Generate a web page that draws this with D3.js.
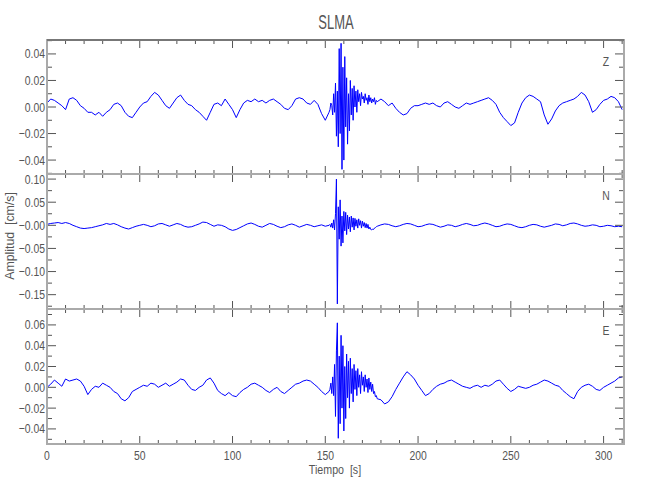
<!DOCTYPE html>
<html><head><meta charset="utf-8">
<script src="https://cdn.jsdelivr.net/npm/d3@7"></script>
<style>
body{margin:0;background:#fff;}
text{font-family:"Liberation Sans",Arial,sans-serif;fill:#555;white-space:pre;}
</style></head><body>
<script>
// ---------- data ----------
const titleText = "SLMA";
const xLabel = "Tiempo  [s]";
const yLabel = "Amplitud  [cm/s]";
const components = ["Z", "N", "E"];
const xDomain = [0, 311];
const xMajorTicks = [0, 50, 100, 150, 200, 250, 300];

// sample times (s) of the three record segments
const timePre = d3.range(0, 153, 2);
const timeBurst = d3.range(152.5, 178.01, 0.5);
const timePost = d3.range(180, 311, 2);

// Z component amplitudes (cm/s)
const ampZPre = [0.003,0.006,0.005,0.003,0.001,-0.002,0.006,0.007,0.005,0.001,-0.001,-0.004,-0.004,-0.006,-0.004,-0.007,-0.004,-0.002,0.002,0.003,0.001,-0.004,-0.007,-0.008,-0.004,0.000,0.003,0.004,0.008,0.011,0.009,0.005,0.001,-0.001,0.003,0.007,0.009,0.005,0.002,0.001,-0.002,-0.004,-0.007,-0.010,-0.004,0.002,0.003,0.001,0.006,0.002,-0.002,-0.008,-0.002,0.003,0.005,0.004,0.006,0.004,0.005,0.003,0.005,0.006,0.004,0.002,-0.001,-0.002,0.001,0.006,0.007,0.006,0.003,0.002,0.005,0.002,-0.005,-0.010,-0.004];
const ampZBurst = [-0.002,0.003,0.001,-0.006,0.010,-0.004,0.018,-0.022,0.012,-0.030,0.044,-0.020,0.048,-0.047,0.030,-0.040,0.038,-0.015,0.022,-0.028,0.010,-0.018,0.020,-0.006,0.014,-0.010,0.016,0.000,0.012,-0.004,0.013,0.004,0.010,0.001,0.011,0.006,0.008,0.003,0.010,0.005,0.007,0.002,0.009,0.004,0.007,0.003,0.006,0.004,0.007,0.002,0.005,0.004];
const ampZPost = [0.006,0.004,0.001,0.003,-0.001,-0.004,-0.006,-0.005,-0.001,0.001,0.001,0.002,0.003,0.002,0.003,0.001,0.000,0.003,0.004,0.002,0.000,-0.001,0.001,0.003,0.002,0.003,0.004,0.005,0.006,0.007,0.005,0.002,-0.004,-0.008,-0.011,-0.014,-0.012,-0.004,0.003,0.007,0.009,0.008,0.006,0.004,-0.006,-0.013,-0.009,-0.003,0.001,0.003,0.004,0.005,0.006,0.008,0.011,0.009,0.004,-0.004,-0.002,0.002,0.005,0.006,0.008,0.007,0.004,-0.002];

// N component amplitudes (cm/s)
const ampNPre = [0.002,0.004,0.005,0.006,0.004,0.006,0.004,0.000,-0.003,-0.006,-0.007,-0.006,-0.005,-0.003,-0.001,0.001,0.004,0.002,0.004,0.001,-0.003,-0.006,-0.008,-0.005,-0.002,0.000,0.002,0.000,-0.003,-0.001,0.003,0.004,0.001,-0.002,0.001,0.004,0.002,-0.002,-0.004,-0.003,0.000,0.003,0.007,0.006,0.002,-0.002,0.001,0.000,-0.003,-0.008,-0.011,-0.009,-0.005,-0.001,0.003,0.005,0.002,-0.002,-0.004,0.000,0.004,0.002,-0.002,-0.005,-0.003,0.001,0.003,0.000,-0.004,-0.001,0.002,0.000,-0.003,-0.001,0.001,-0.002,0.000];
const ampNBurst = [0.002,-0.004,0.005,-0.006,0.012,-0.010,0.025,0.100,-0.170,0.040,-0.030,0.055,-0.045,0.020,-0.038,0.030,-0.012,0.028,-0.020,0.022,-0.008,0.018,-0.014,0.020,-0.004,0.016,-0.010,0.015,-0.002,0.012,-0.006,0.014,0.000,0.010,-0.006,0.009,-0.002,0.006,-0.005,0.004,-0.006,0.002,-0.008,-0.004,-0.009,-0.010,-0.008,-0.009,-0.006,-0.005,-0.003,-0.002];
const ampNPost = [0.001,0.003,0.002,-0.001,-0.003,-0.001,0.002,0.004,0.003,0.000,-0.003,-0.002,0.001,0.003,0.002,-0.001,-0.004,-0.002,0.001,0.000,-0.003,-0.001,0.002,0.004,0.002,-0.001,0.000,0.003,0.005,0.003,0.000,-0.003,-0.002,0.001,0.003,0.002,-0.001,-0.004,-0.005,-0.003,0.000,0.002,0.001,-0.002,-0.004,-0.002,0.000,0.003,0.002,-0.001,0.001,0.004,0.005,0.003,0.000,-0.002,-0.001,0.001,0.000,-0.003,-0.002,0.000,-0.001,-0.003,-0.002,-0.003];

// E component amplitudes (cm/s)
const ampEPre = [0.000,0.003,0.007,0.004,0.001,0.008,0.006,0.007,0.008,0.006,0.001,-0.007,-0.002,0.001,0.000,0.004,0.002,0.000,-0.004,-0.006,-0.011,-0.013,-0.010,-0.004,-0.002,0.000,0.002,0.001,0.004,0.003,0.000,0.002,0.004,0.001,0.003,0.005,0.008,0.007,0.002,-0.002,-0.003,0.000,0.002,0.007,0.009,0.004,-0.003,-0.006,-0.008,-0.005,-0.008,-0.009,-0.005,-0.002,0.000,0.003,0.004,0.002,0.000,-0.003,-0.005,-0.002,0.000,-0.004,-0.006,-0.003,0.000,0.003,0.004,0.006,0.007,0.006,0.003,0.000,-0.004,-0.007,-0.004];
const ampEBurst = [-0.002,0.004,-0.006,0.010,-0.008,0.022,-0.028,0.035,0.062,-0.049,0.030,-0.035,0.050,-0.020,0.040,-0.042,0.020,-0.030,0.032,-0.010,0.025,-0.020,0.028,-0.006,0.018,-0.014,0.022,-0.002,0.016,-0.008,0.018,0.000,0.012,-0.006,0.015,0.002,0.010,-0.004,0.012,0.000,0.008,-0.005,0.009,-0.002,0.005,-0.004,0.003,-0.006,-0.004,-0.009,-0.008,-0.011];
const ampEPost = [-0.012,-0.016,-0.014,-0.009,-0.002,0.004,0.010,0.015,0.012,0.008,0.002,-0.003,-0.008,-0.006,-0.002,0.001,0.003,0.004,0.006,0.007,0.005,0.003,0.001,0.000,-0.001,0.001,0.002,0.000,0.002,0.001,0.003,0.006,0.007,0.003,-0.001,-0.004,-0.002,0.001,0.000,-0.001,0.000,0.002,0.003,0.005,0.007,0.006,0.004,0.002,0.001,-0.003,-0.006,-0.009,-0.011,-0.004,0.000,0.002,0.003,0.001,-0.002,-0.003,0.000,0.002,0.004,0.006,0.009,0.010];

// y ranges and tick labels per panel
const yDomains = [[-0.0505, 0.0505], [-0.181, 0.111], [-0.0545, 0.0753]];
const yMajorTicks = [[-0.04,-0.02,0,0.02,0.04], [-0.15,-0.10,-0.05,0,0.05,0.10], [-0.04,-0.02,0,0.02,0.04,0.06]];
const yTickLabels = [["\u22120.04","\u22120.02","0.00","0.02","0.04"], ["\u22120.15","\u22120.10","\u22120.05","\u22120.00","0.05","0.10"], ["\u22120.04","\u22120.02","0.00","0.02","0.04","0.06"]];
const yMinorStep = [0.01, 0.025, 0.01];

// ---------- drawing ----------
const W = 650, H = 500;
const svg = d3.select("body").append("svg").attr("width", W).attr("height", H);
const left = 47, right = 624;
const panelTops = [40, 174, 309];
const panelBottoms = [174, 309, 444];
const x = d3.scaleLinear().domain(xDomain).range([left, right]);

// condensed text helper
function label(px, py, str, size, anchor, sx, rot) {
  return svg.append("text")
    .attr("transform", `translate(${px},${py})${rot ? ` rotate(${rot})` : ""} scale(${sx},1)`)
    .attr("dy", "0.35em").attr("text-anchor", anchor).attr("font-size", size).text(str);
}

function joinSeries(pre, burst, post) {
  const pts = [];
  timePre.forEach((t, i) => { if (i < pre.length) pts.push([t, pre[i]]); });
  timeBurst.forEach((t, i) => { if (i < burst.length) pts.push([t, burst[i]]); });
  timePost.forEach((t, i) => { if (i < post.length) pts.push([t, post[i]]); });
  return pts;
}
const series = [
  joinSeries(ampZPre, ampZBurst, ampZPost),
  joinSeries(ampNPre, ampNBurst, ampNPost),
  joinSeries(ampEPre, ampEBurst, ampEPost)
];

const axisColor = "#aaaaaa", tickColor = "#555";

components.forEach((comp, p) => {
  const top = panelTops[p], bot = panelBottoms[p];
  const y = d3.scaleLinear().domain(yDomains[p]).range([bot, top]);
  const g = svg.append("g");

  const clipId = "clip" + p;
  svg.append("clipPath").attr("id", clipId).append("rect")
    .attr("x", left).attr("y", top).attr("width", right - left).attr("height", bot - top);
  g.append("path").datum(series[p])
    .attr("clip-path", `url(#${clipId})`)
    .attr("fill", "none").attr("stroke", "#0000ff").attr("stroke-width", 1)
    .attr("d", d3.line().x(d => x(d[0])).y(d => y(d[1])));

  const xMinor = d3.range(0, 311, 10);
  xMinor.forEach(t => {
    const major = xMajorTicks.includes(t);
    const len = major ? 8 : 4;
    g.append("line").attr("x1", x(t)).attr("x2", x(t)).attr("y1", bot).attr("y2", bot - len)
      .attr("stroke", tickColor).attr("stroke-width", 1);
    g.append("line").attr("x1", x(t)).attr("x2", x(t)).attr("y1", top).attr("y2", top + len)
      .attr("stroke", tickColor).attr("stroke-width", 1);
  });

  const [y0, y1] = yDomains[p];
  const step = yMinorStep[p];
  const minorVals = d3.range(Math.ceil(y0 / step - 1e-9), Math.floor(y1 / step + 1e-9) + 1).map(k => k * step);
  minorVals.forEach(v => {
    const major = yMajorTicks[p].some(m => Math.abs(m - v) < 1e-6);
    const len = major ? 9 : 5;
    g.append("line").attr("x1", left).attr("x2", left + len).attr("y1", y(v)).attr("y2", y(v))
      .attr("stroke", tickColor).attr("stroke-width", 1);
    g.append("line").attr("x1", right).attr("x2", right - len).attr("y1", y(v)).attr("y2", y(v))
      .attr("stroke", tickColor).attr("stroke-width", 1);
  });
  yMajorTicks[p].forEach((v, i) => {
    label(left - 2, y(v), yTickLabels[p][i], 13, "end", 0.8);
  });

  g.append("rect").attr("x", left).attr("y", top).attr("width", right - left).attr("height", bot - top)
    .attr("fill", "none").attr("stroke", axisColor).attr("stroke-width", 2);

  label(606, top + 21, comp, 13, "middle", 0.8);
});

svg.append("line").attr("x1", left).attr("x2", right).attr("y1", 40).attr("y2", 40)
  .attr("stroke", "#777").attr("stroke-width", 2);

xMajorTicks.forEach(t => {
  label(x(t), 455, String(t), 13, "middle", 0.8);
});

label(336, 22, titleText, 20, "middle", 0.65);
label(335, 469, xLabel, 13, "middle", 0.82);
label(9, 236, yLabel, 13, "middle", 0.95, -90);
</script>
</body></html>
